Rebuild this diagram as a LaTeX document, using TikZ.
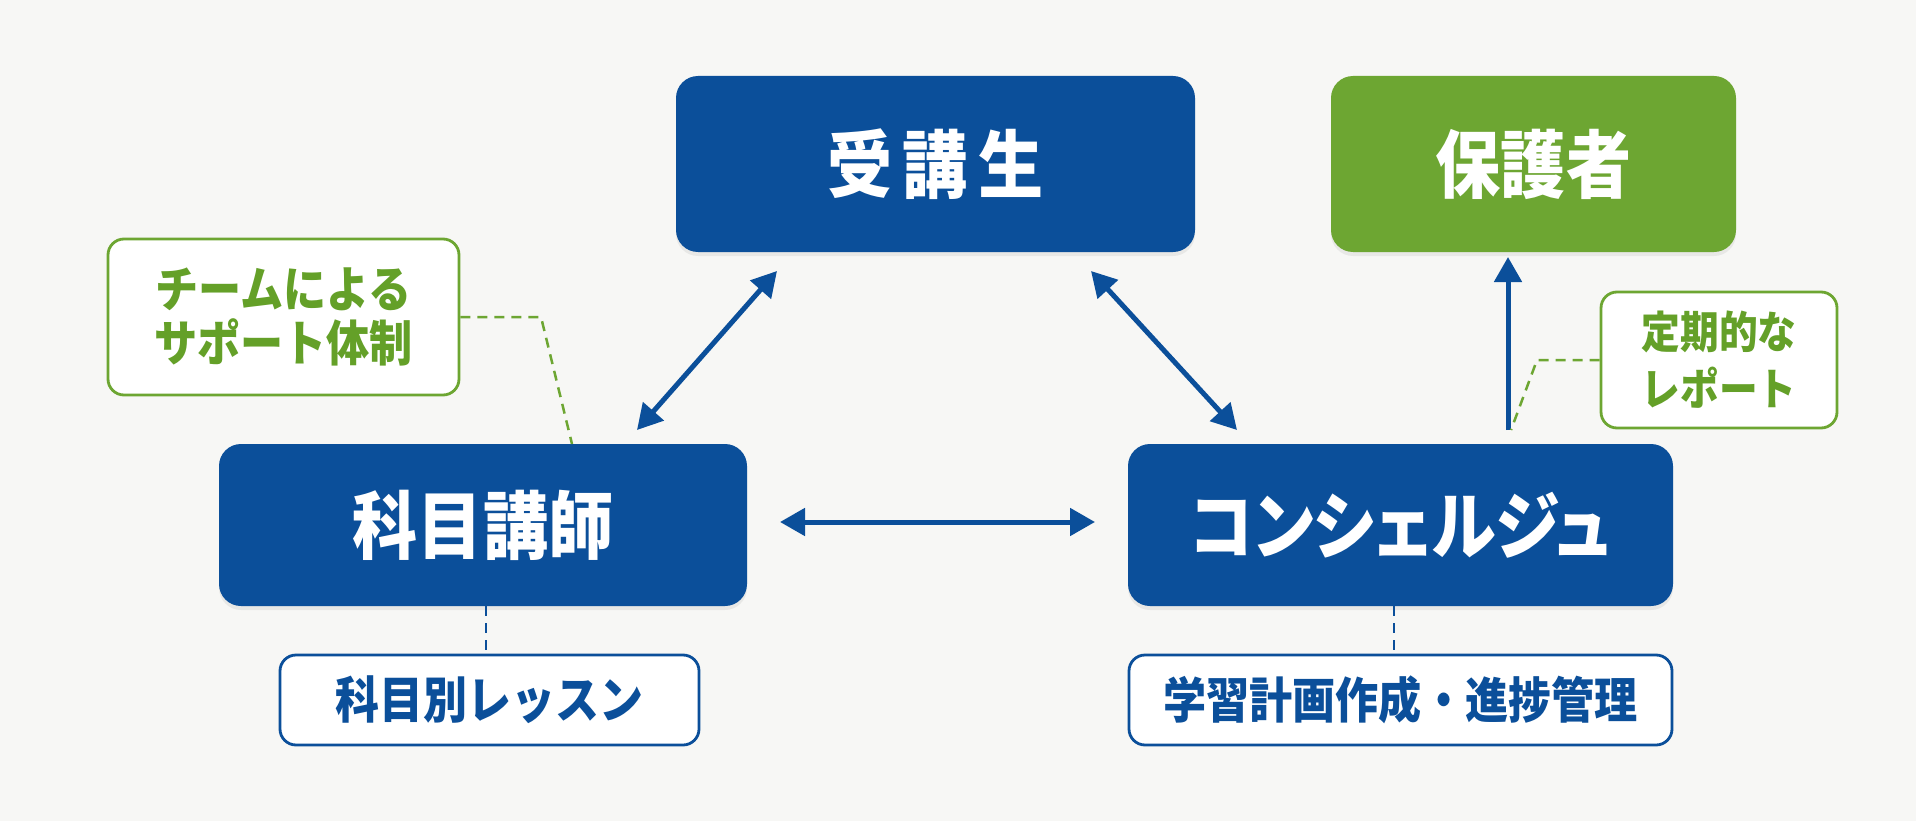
\documentclass[tikz,border=0pt]{standalone}
\usepackage{fontspec}
\newfontfamily\jp[FakeStretch=0.88]{Noto Sans CJK JP}
\newfontfamily\jpp[FakeStretch=0.88,RawFeature=+palt]{Noto Sans CJK JP}
\usetikzlibrary{arrows.meta,shadows,calc}
\definecolor{bg}{RGB}{247,247,245}
\definecolor{navy}{RGB}{11,79,154}
\definecolor{leaf}{RGB}{109,166,50}
\definecolor{leaftext}{RGB}{100,160,40}
\begin{document}
\begin{tikzpicture}[x=1pt,y=-1pt,
  mainbox/.style={rounded corners=22pt, minimum width=#1, minimum height=176pt, inner sep=0pt,
    text=white, font=\jp\bfseries\fontsize{74}{80}\selectfont,
    drop shadow={opacity=0.12, shadow xshift=0pt, shadow yshift=-4pt}},
  greenlabel/.style={draw=leaf, line width=2.8pt, fill=white, rounded corners=16pt, inner sep=0pt,
    text=leaftext, align=center, font=\jp\bfseries\fontsize{49}{54}\selectfont},
  bluelabel/.style={draw=navy, line width=2.8pt, fill=white, rounded corners=16pt, inner sep=0pt,
    text=navy, align=center, font=\jp\bfseries\fontsize{50}{54}\selectfont},
  conn/.style={navy, line width=5pt},
  tip/.tip={Triangle[length=25pt,width=27pt]},
  gdash/.style={leaf, line width=2.5pt, dash pattern=on 10pt off 7pt},
  bdash/.style={navy, line width=2.5pt, dash pattern=on 10pt off 7pt}
]
\useasboundingbox[fill=bg] (0,0) rectangle (1916,821);

\node[mainbox=519pt, fill=navy] (ju) at (935.5,164) {受\hspace{10pt}講\hspace{10pt}生};
\node[mainbox=405pt, fill=leaf] (ho) at (1533.5,164) {保護者};
\node[mainbox=528pt, fill=navy, minimum height=162pt] (ka) at (483,525) {科目講師};
\node[mainbox=545pt, fill=navy, minimum height=162pt, font=\jpp\bfseries\fontsize{74}{80}\selectfont] (co) at (1400.5,525) {コンシェルジュ};

\node[greenlabel, minimum width=351pt, minimum height=156pt] (team) at (283.5,317) {チームによる\\サポート体制};
\node[greenlabel, minimum width=236pt, minimum height=136pt, font=\jp\bfseries\fontsize{44}{57}\selectfont] (rep) at (1719,360) {定期的な\\レポート};
\node[bluelabel, minimum width=419pt, minimum height=90pt] (less) at (489.5,700) {科目別レッスン};
\node[bluelabel, minimum width=543pt, minimum height=90pt, font=\jp\bfseries\fontsize{49}{54}\selectfont] (plan) at (1400.5,700) {学習計画作成・進捗管理};

% arrows
\coordinate (a1s) at (777,271);
\coordinate (a1e) at (637,430);
\coordinate (a2s) at (1091,271);
\coordinate (a2e) at (1237,430);
\coordinate (a3s) at (780,522);
\coordinate (a3e) at (1095,522);
\coordinate (a4s) at (1508,430);
\coordinate (a4e) at (1508,257);
\draw[conn, tip-tip] (a1s) -- (a1e);
\draw[conn, tip-tip] (a2s) -- (a2e);
\draw[conn, tip-tip] (a3s) -- (a3e);
\draw[conn, -tip] (a4s) -- (a4e);

% dashed leaders
\coordinate (t1) at (541,317);
\coordinate (t2) at (572,444);
\draw[gdash] (team.east) -- (t1) -- (t2);
\coordinate (r1) at (1537,360);
\coordinate (r2) at (1511,430);
\draw[gdash] (rep.west) -- (r1) -- (r2);
\coordinate (l1) at (486,606);
\coordinate (l2) at (486,655);
\coordinate (p1) at (1394,606);
\coordinate (p2) at (1394,655);
\draw[bdash] (l1) -- (l2);
\draw[bdash] (p1) -- (p2);
\end{tikzpicture}
\end{document}
